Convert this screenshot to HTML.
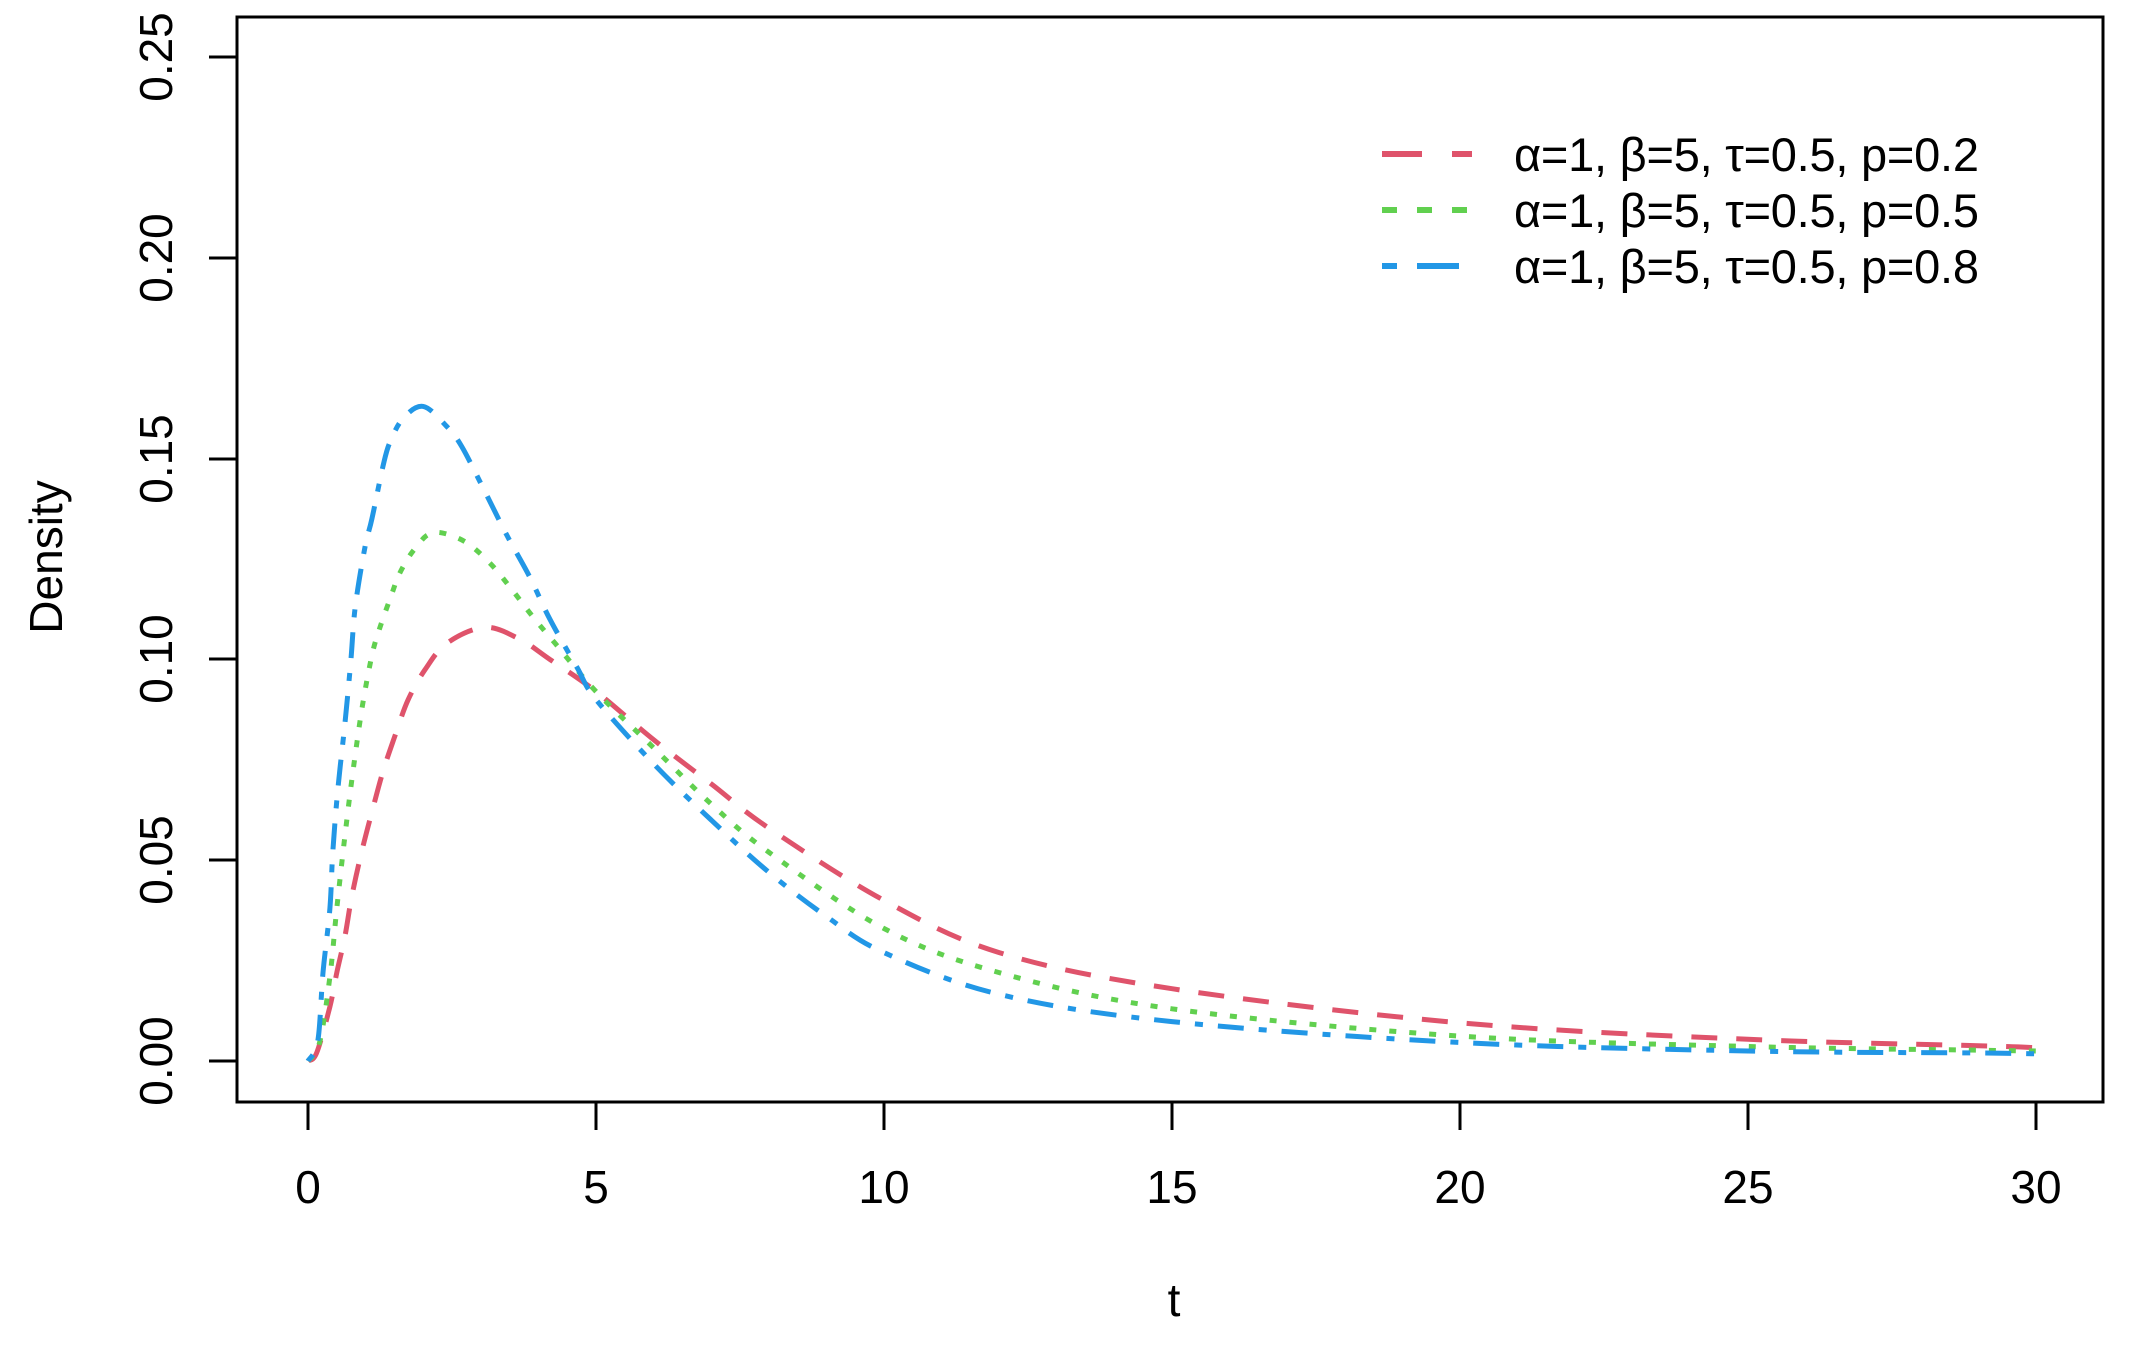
<!DOCTYPE html>
<html><head><meta charset="utf-8"><style>
html,body{margin:0;padding:0;background:#fff;}
svg{display:block;}
text{font-family:"Liberation Sans",sans-serif;fill:#000;}
</style></head><body>
<svg id="s" width="2129" height="1348" viewBox="0 0 2129 1348" xmlns="http://www.w3.org/2000/svg">
<rect width="2129" height="1348" fill="#fff"/>
<rect x="237" y="17" width="1866" height="1085" fill="none" stroke="#000" stroke-width="3"/>
<g stroke="#000" stroke-width="3">
<line x1="209" y1="1061" x2="237" y2="1061"/>
<line x1="209" y1="860" x2="237" y2="860"/>
<line x1="209" y1="659" x2="237" y2="659"/>
<line x1="209" y1="459" x2="237" y2="459"/>
<line x1="209" y1="258" x2="237" y2="258"/>
<line x1="209" y1="57" x2="237" y2="57"/>
<line x1="308" y1="1102" x2="308" y2="1130"/>
<line x1="596" y1="1102" x2="596" y2="1130"/>
<line x1="884" y1="1102" x2="884" y2="1130"/>
<line x1="1172" y1="1102" x2="1172" y2="1130"/>
<line x1="1460" y1="1102" x2="1460" y2="1130"/>
<line x1="1748" y1="1102" x2="1748" y2="1130"/>
<line x1="2036" y1="1102" x2="2036" y2="1130"/>
</g>
<g font-size="46" text-anchor="middle">
<text x="308" y="1203">0</text>
<text x="596" y="1203">5</text>
<text x="884" y="1203">10</text>
<text x="1172" y="1203">15</text>
<text x="1460" y="1203">20</text>
<text x="1748" y="1203">25</text>
<text x="2036" y="1203">30</text>
<text transform="translate(172,1061) rotate(-90)">0.00</text>
<text transform="translate(172,860) rotate(-90)">0.05</text>
<text transform="translate(172,659) rotate(-90)">0.10</text>
<text transform="translate(172,459) rotate(-90)">0.15</text>
<text transform="translate(172,258) rotate(-90)">0.20</text>
<text transform="translate(172,57) rotate(-90)">0.25</text>
<text transform="translate(62,557) rotate(-90)">Density</text>
<text x="1174" y="1316">t</text>
</g>
<g id="curves" fill="none" stroke-width="5"></g>
<g stroke-width="6" fill="none">
<line x1="1382" y1="154" x2="1472" y2="154" stroke="#DF536B" stroke-dasharray="40 30"/>
<line x1="1382" y1="210" x2="1472" y2="210" stroke="#61D04F" stroke-dasharray="15 20"/>
<line x1="1382" y1="266" x2="1472" y2="266" stroke="#2297E6" stroke-dasharray="15 20 42 20"/>
</g>
<g font-size="47">
<text x="1514" y="171" textLength="465">α=1, β=5, τ=0.5, p=0.2</text>
<text x="1514" y="227" textLength="465">α=1, β=5, τ=0.5, p=0.5</text>
<text x="1514" y="283" textLength="465">α=1, β=5, τ=0.5, p=0.8</text>
</g>
</svg>
<script>
var red=[[0,0],[0.15,0.002],[0.38,0.0135],[0.5,0.022],[0.64,0.031],[0.76,0.041],[0.93,0.052],[1.11,0.062],[1.3,0.072],[1.51,0.081],[1.74,0.090],[2.03,0.0974],[2.41,0.104],[3.07,0.108],[3.68,0.105],[4.2,0.100],[5,0.092],[6,0.080],[7,0.069],[8,0.058],[10,0.040],[12,0.027],[15,0.018],[20,0.0095],[25,0.0054],[29,0.0038],[30,0.0033]];
var green=[[0,0],[0.2,0.0045],[0.38,0.021],[0.5,0.038],[0.64,0.056],[0.78,0.072],[0.94,0.088],[1.11,0.101],[1.25,0.108],[1.46,0.1165],[1.56,0.1205],[1.72,0.1248],[1.88,0.128],[2.08,0.131],[2.33,0.1315],[2.76,0.129],[3.19,0.1235],[3.56,0.117],[3.91,0.1105],[4.29,0.104],[5,0.092],[6,0.078],[7,0.064],[8,0.052],[10,0.033],[12,0.022],[15,0.013],[20,0.0062],[25,0.0036],[29,0.0027],[30,0.0025]];
var blue=[[0,0],[0.17,0.005],[0.26,0.022],[0.38,0.038],[0.43,0.052],[0.52,0.068],[0.64,0.084],[0.74,0.099],[0.82,0.113],[0.99,0.128],[1.11,0.135],[1.3,0.148],[1.42,0.154],[1.65,0.160],[2.0,0.163],[2.41,0.158],[2.67,0.153],[3.04,0.1427],[3.45,0.131],[3.85,0.1205],[4.2,0.110],[4.67,0.098],[5,0.090],[6,0.074],[7,0.060],[8,0.047],[9,0.036],[10,0.027],[12,0.0166],[15,0.0098],[20,0.0046],[25,0.0025],[29,0.002],[30,0.0018]];
function P(p){return [308+p[0]*57.6,1061-p[1]*4016];}
function path(d){var q=d.map(P),s="M"+q[0][0].toFixed(1)+","+q[0][1].toFixed(1);
for(var i=0;i<q.length-1;i++){var p0=q[Math.max(0,i-1)],p1=q[i],p2=q[i+1],p3=q[Math.min(q.length-1,i+2)];
var c1=[p1[0]+(p2[0]-p0[0])/6,p1[1]+(p2[1]-p0[1])/6],c2=[p2[0]-(p3[0]-p1[0])/6,p2[1]-(p3[1]-p1[1])/6];
s+=" C"+c1[0].toFixed(1)+","+c1[1].toFixed(1)+" "+c2[0].toFixed(1)+","+c2[1].toFixed(1)+" "+p2[0].toFixed(1)+","+p2[1].toFixed(1);}
return s;}
var g=document.getElementById("curves"),ns="http://www.w3.org/2000/svg";
[[red,"#DF536B","26 19"],[green,"#61D04F","7 13"],[blue,"#2297E6","8 15 26 15"]].forEach(function(c){
var e=document.createElementNS(ns,"path");e.setAttribute("d",path(c[0]));e.setAttribute("stroke",c[1]);e.setAttribute("stroke-dasharray",c[2]);g.appendChild(e);});
</script>
</body></html>
